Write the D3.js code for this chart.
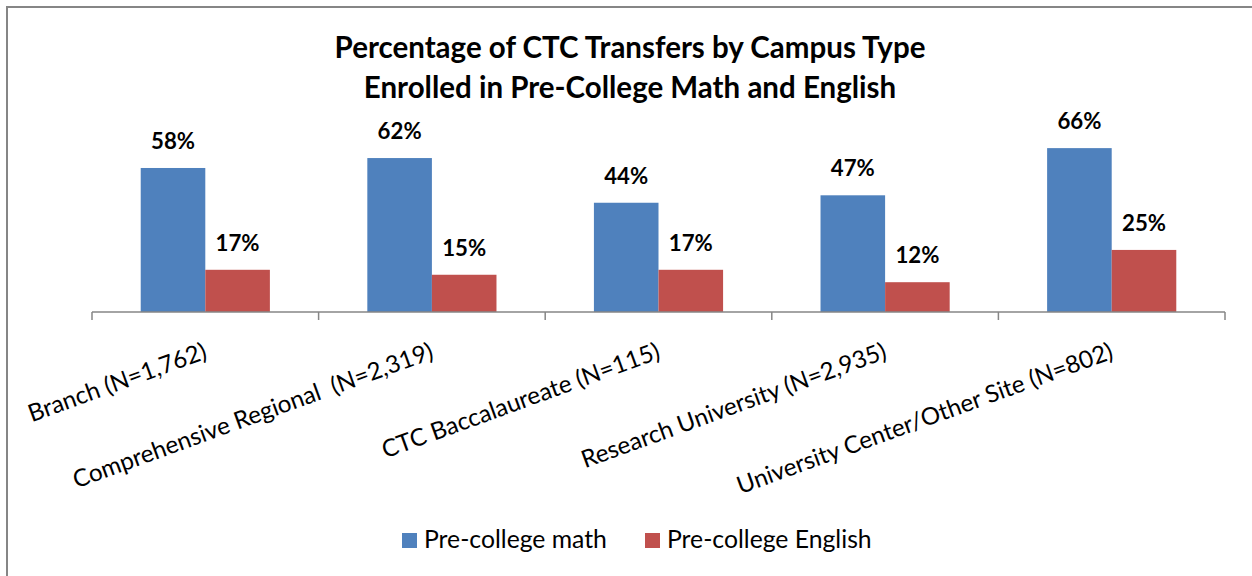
<!DOCTYPE html>
<html>
<head>
<meta charset="utf-8">
<script src="https://cdn.jsdelivr.net/npm/d3@7"></script>
<style>
  html, body { margin: 0; padding: 0; background: #fff; }
  svg { display: block; }
  text { font-family: Lato, "Open Sans", sans-serif; fill: #000; white-space: pre; }
</style>
</head>
<body>
<svg id="chart" width="1252" height="576"></svg>
<script>
const categories = [
  "Branch (N=1,762)",
  "Comprehensive Regional  (N=2,319)",
  "CTC Baccalaureate (N=115)",
  "Research University (N=2,935)",
  "University Center/Other Site (N=802)"
];
const seriesNames = ["Pre-college math", "Pre-college English"];
const mathValues = [58, 62, 44, 47, 66];
const englishValues = [17, 15, 17, 12, 25];
const titleLines = [
  "Percentage of CTC Transfers by Campus Type",
  "Enrolled in Pre-College Math and English"
];
const colors = ["#4F81BD", "#C0504D"];

const data = categories.map((c, i) => ({ cat: c, values: [mathValues[i], englishValues[i]] }));

const svg = d3.select("#chart");
const W = 1252, H = 576;
const axisY = 312;

// chart border (only top and left visible in crop)
svg.append("path")
  .attr("d", `M7,${H} L7,7 L${W},7`)
  .attr("fill", "none").attr("stroke", "#868686").attr("stroke-width", 2);

function fitSize(sel, target, base) {
  sel.style("font-size", base + "px");
  const w = sel.node().getComputedTextLength();
  const s = base * target / w;
  sel.style("font-size", s + "px");
  return s;
}

// title
const t1 = svg.append("text").attr("x", 630).attr("y", 58).attr("text-anchor", "middle")
  .style("font-weight", "bold").text(titleLines[0]);
const ts = fitSize(t1, 591, 26);
svg.append("text").attr("x", 630).attr("y", 98).attr("text-anchor", "middle")
  .style("font-weight", "bold").style("font-size", ts + "px").text(titleLines[1]);

const x0 = d3.scaleBand().domain(categories).range([92, 1225]).padding(0);
const bw = x0.bandwidth();
const gap = bw * 0.215;
const x1 = d3.scaleBand().domain([0, 1]).range([gap, bw - gap]).padding(0);
const y = d3.scaleLinear().domain([0, 70]).range([axisY, axisY - 70 * 2.483]);

const groups = svg.append("g").selectAll("g").data(data).join("g")
  .attr("transform", d => `translate(${x0(d.cat)},0)`);

groups.selectAll("rect").data(d => d.values.map((v, j) => ({ v, j }))).join("rect")
  .attr("x", d => x1(d.j))
  .attr("width", x1.bandwidth())
  .attr("y", d => y(d.v))
  .attr("height", d => axisY - y(d.v))
  .attr("fill", d => colors[d.j]);

// value labels
const probe = svg.append("text").style("font-weight", "bold").text("58%");
const vs = fitSize(probe, 44, 24);
probe.remove();
groups.selectAll("text.val").data(d => d.values.map((v, j) => ({ v, j }))).join("text")
  .attr("class", "val")
  .attr("x", d => x1(d.j) + x1.bandwidth() / 2)
  .attr("y", d => y(d.v) - 19)
  .attr("text-anchor", "middle")
  .style("font-weight", "bold").style("font-size", vs + "px")
  .text(d => d.v + "%");

// x axis
const axis = d3.axisBottom(x0).tickSize(0).tickFormat("");
const ax = svg.append("g").attr("transform", `translate(0,${axisY})`).call(axis);
ax.select(".domain").attr("stroke", "#868686").attr("stroke-width", 1.5).attr("d", `M92,0H1225`);
const tickPos = categories.map(c => x0(c)).concat([1225]);
ax.selectAll("line.tk").data(tickPos).join("line").attr("class", "tk")
  .attr("x1", d => d).attr("x2", d => d).attr("y1", 0).attr("y2", 8)
  .attr("stroke", "#868686").attr("stroke-width", 1.5);

// category labels
const cprobe = svg.append("text").text(categories[0]);
const cs = fitSize(cprobe, 188, 20);
cprobe.remove();
svg.append("g").selectAll("text").data(categories).join("text")
  .attr("transform", c => `translate(${x0(c) + bw / 2 + 3},${axisY + 46}) rotate(-20)`)
  .attr("text-anchor", "end")
  .attr("xml:space", "preserve")
  .style("font-size", cs + "px")
  .text(c => c);

// legend
const lprobe = svg.append("text").text(seriesNames[0]);
const ls = fitSize(lprobe, 183, 20);
lprobe.remove();
const legX = [402, 645];
const leg = svg.append("g").selectAll("g").data(seriesNames).join("g")
  .attr("transform", (d, i) => `translate(${legX[i]},533)`);
leg.append("rect").attr("width", 15).attr("height", 15).attr("fill", (d, i) => colors[i]);
leg.append("text").attr("x", 22).attr("y", 15).style("font-size", ls + "px").text(d => d);
</script>
</body>
</html>
